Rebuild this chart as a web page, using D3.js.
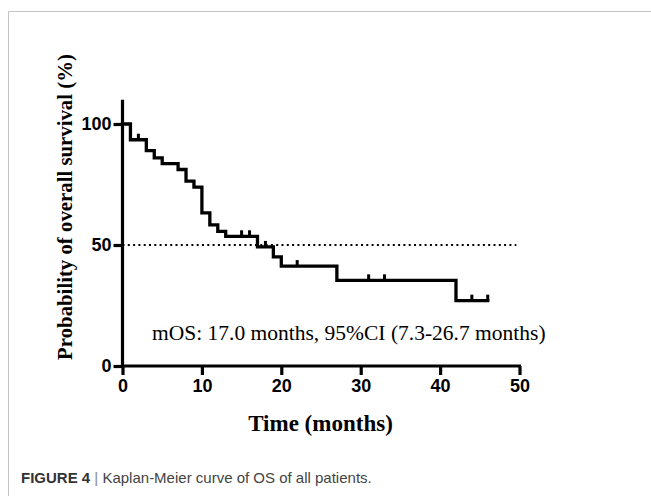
<!DOCTYPE html>
<html>
<head>
<meta charset="utf-8">
<script src="https://cdn.jsdelivr.net/npm/d3@7"></script>
<style>
  html, body { margin: 0; padding: 0; background: #fff; }
  svg { display: block; }
</style>
</head>
<body>
<script>
// ---- data ----
const stepTimes = [0, 1, 3, 4, 5, 7, 8, 9, 10, 11, 12, 13, 17, 19, 20, 27, 42];
const stepSurvival = [100, 93.5, 89, 86, 83.6, 81.2, 76.4, 73.9, 63.3, 58.3, 55.6, 53.6, 49.2, 45.1, 41.3, 35.4, 27.0];
const lastTime = 46;
const censorTimes = [2, 15, 16, 18, 22, 31, 33, 44, 46];
const medianLevel = 50;
const xTicks = [0, 10, 20, 30, 40, 50];
const yTicks = [0, 50, 100];
const xTitle = "Time (months)";
const yTitle = "Probability of overall survival (%)";
const annotation = "mOS: 17.0 months, 95%CI (7.3-26.7 months)";
const captionBold = "FIGURE 4";
const captionRest = "Kaplan-Meier curve of OS of all patients.";

const W = 651, H = 496;
const svg = d3.select("body").append("svg").attr("width", W).attr("height", H);

// frame
svg.append("path").attr("d", `M8.5,${H} V11.5 H${W}`)
  .attr("fill", "none").attr("stroke", "#c4c4c4").attr("stroke-width", 1);

const x = d3.scaleLinear().domain([0, 50]).range([122.5, 519.5]);
const y = d3.scaleLinear().domain([0, 110]).range([366, 99.8]);

// survival function
function survAt(t) {
  let s = stepSurvival[0];
  for (let i = 0; i < stepTimes.length; i++) if (stepTimes[i] <= t) s = stepSurvival[i];
  return s;
}

// dotted median line
svg.append("line")
  .attr("x1", x(0)).attr("x2", x(49.6))
  .attr("y1", y(medianLevel)).attr("y2", y(medianLevel))
  .attr("stroke", "#000").attr("stroke-width", 2)
  .attr("stroke-dasharray", "2,3.3");

// step curve
const pts = stepTimes.map((t, i) => [t, stepSurvival[i]]);
pts.push([lastTime, stepSurvival[stepSurvival.length - 1]]);
const line = d3.line().x(d => x(d[0])).y(d => y(d[1])).curve(d3.curveStepAfter);
svg.append("path").attr("d", line(pts))
  .attr("fill", "none").attr("stroke", "#000").attr("stroke-width", 3.3)
  .attr("stroke-linejoin", "miter").attr("stroke-linecap", "square");

// censor marks
svg.selectAll("line.cens").data(censorTimes).enter().append("line")
  .attr("class", "cens")
  .attr("x1", d => x(d)).attr("x2", d => x(d))
  .attr("y1", d => y(survAt(d))).attr("y2", d => y(survAt(d)) - 6)
  .attr("stroke", "#000").attr("stroke-width", 3);

// axes
const fontTick = "'Liberation Sans', Arial, Helvetica, sans-serif";
const xAxis = d3.axisBottom(x).tickValues(xTicks).tickSize(9).tickSizeOuter(0).tickPadding(4);
const gx = svg.append("g").attr("transform", `translate(0,${y(0)})`).call(xAxis);
const yAxis = d3.axisLeft(y).tickValues(yTicks).tickSize(9).tickSizeOuter(0).tickPadding(2);
const gy = svg.append("g").attr("transform", `translate(${x(0)},0)`).call(yAxis);

[gx, gy].forEach(g => {
  g.select(".domain").attr("stroke", "#000").attr("stroke-width", 3.2);
  g.selectAll(".tick line").attr("stroke", "#000").attr("stroke-width", 3.2);
  g.selectAll(".tick text").attr("fill", "#000")
    .style("font-family", fontTick).style("font-weight", "bold").style("font-size", "18px");
});
gx.select(".domain").attr("d", `M${x(0) - 1.5},0H${x(50) + 1.5}`);
gy.select(".domain").attr("d", `M0,${y(110)}V${y(0) + 1.5}`);

// titles
const serif = "'Liberation Serif', 'Times New Roman', serif";
svg.append("text").attr("x", 320.5).attr("y", 431)
  .attr("text-anchor", "middle")
  .style("font-family", serif).style("font-weight", "bold").style("font-size", "23px")
  .text(xTitle);

svg.append("text")
  .attr("transform", `translate(72,207) rotate(-90)`)
  .attr("text-anchor", "middle")
  .style("font-family", serif).style("font-weight", "bold").style("font-size", "20.8px")
  .text(yTitle);

svg.append("text").attr("x", 152).attr("y", 340)
  .style("font-family", serif).style("font-size", "21.5px")
  .text(annotation);

// caption
const cap = svg.append("text").attr("x", 21).attr("y", 483)
  .style("font-family", "'Liberation Sans', Arial, sans-serif").style("font-size", "15px");
cap.append("tspan").style("font-weight", "bold").attr("fill", "#333").text(captionBold);
cap.append("tspan").attr("fill", "#888").text(" | ");
cap.append("tspan").attr("fill", "#444").text(captionRest);
</script>
</body>
</html>
